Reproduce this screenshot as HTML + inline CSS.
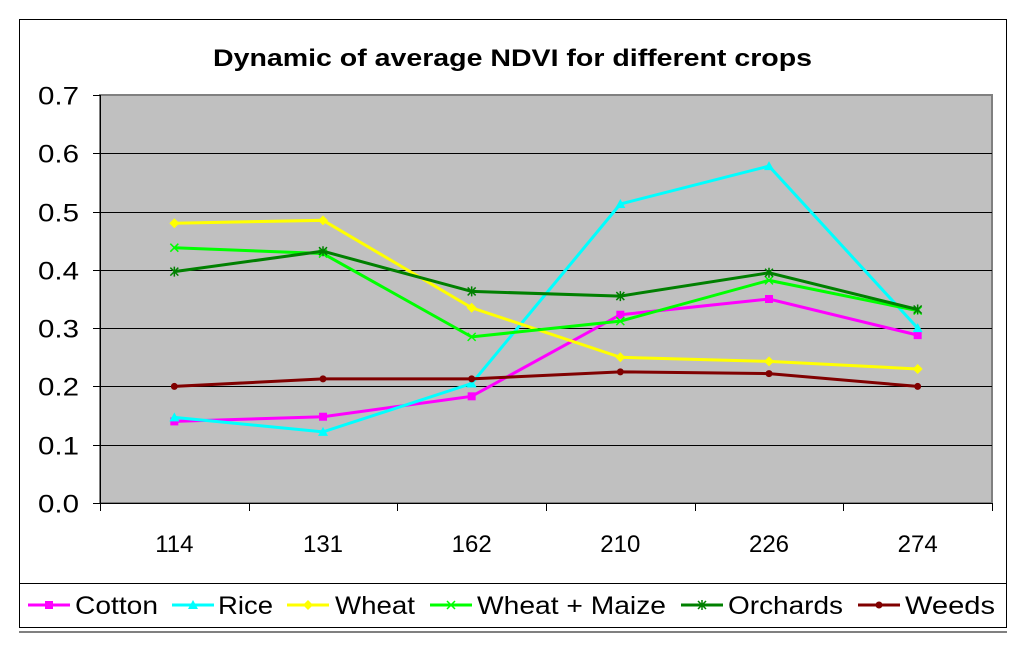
<!DOCTYPE html>
<html><head><meta charset="utf-8"><style>
body{margin:0;background:#fff;width:1024px;height:651px;overflow:hidden;font-family:"Liberation Sans",Arial,sans-serif}
</style></head><body>
<svg width="1024" height="651">
<rect x="19.5" y="19.5" width="987" height="608" fill="#fff" stroke="#000"/>
<line x1="19" y1="632" x2="1007" y2="632" stroke="#000"/>
<text x="213" y="66" textLength="599" lengthAdjust="spacingAndGlyphs" font-size="24" font-weight="bold">Dynamic of average NDVI for different crops</text>
<rect x="100" y="95" width="892" height="408" fill="#c0c0c0" stroke="#808080" stroke-width="2"/>
<g id="grid"></g><g id="axes"></g><g id="series"></g>
<line x1="19" y1="583.5" x2="1007" y2="583.5" stroke="#000"/>
<g id="legend"></g>
</svg>
<script>
const categories=["114","131","162","210","226","274"];
const yTicks=[0,0.1,0.2,0.3,0.4,0.5,0.6,0.7];
const seriesNames=["Cotton","Rice","Wheat","Wheat + Maize","Orchards","Weeds"];
const seriesColors=["#ff00ff","#00ffff","#ffff00","#00ff00","#008000","#800000"];
const cotton=[0.14,0.148,0.183,0.323,0.35,0.288];
const rice=[0.147,0.122,0.205,0.513,0.578,0.30];
const wheat=[0.48,0.485,0.335,0.25,0.243,0.23];
const wheatMaize=[0.438,0.428,0.285,0.312,0.382,0.33];
const orchards=[0.397,0.432,0.363,0.355,0.395,0.332];
const weeds=[0.2,0.213,0.213,0.225,0.222,0.2];
const seriesData=[cotton,rice,wheat,wheatMaize,orchards,weeds];
const NS="http://www.w3.org/2000/svg";
const L=100,R=992,T=95,B=503,YMAX=0.7;
const bw=(R-L)/categories.length;
const x=i=>L+bw*(i+0.5);
const y=v=>B-(v/YMAX)*(B-T);
function mk(tag,attrs,parent){const e=document.createElementNS(NS,tag);for(const k in attrs)e.setAttribute(k,attrs[k]);parent.appendChild(e);return e;}
const grid=document.getElementById('grid'),axes=document.getElementById('axes'),ser=document.getElementById('series'),leg=document.getElementById('legend');
yTicks.forEach(t=>{
 const yy=Math.round(y(t))+0.5;
 if(t>0&&t<YMAX){const g=mk('line',{x1:L,x2:R,y1:yy,y2:yy,stroke:'#000'},grid);
 
 }
 const tk=mk('line',{x1:L-7,x2:L,y1:yy,y2:yy,stroke:'#000'},axes);
 
 
 const lb=mk('text',{x:L-21,y:yy+9,'text-anchor':'end','font-size':25,textLength:41,lengthAdjust:'spacingAndGlyphs'},axes);
 lb.textContent=t.toFixed(1);
 
 
});
const ya=mk('line',{x1:L+0.5,x2:L+0.5,y1:T,y2:B,stroke:'#000'},axes);


const xa=mk('line',{x1:L,x2:R,y1:B+0.5,y2:B+0.5,stroke:'#000'},axes);


for(let i=0;i<=categories.length;i++){
 const xx=Math.round(L+bw*i)+0.5;
 const tk=mk('line',{x1:xx,x2:xx,y1:B,y2:B+8,stroke:'#000'},axes);
 
 
}
categories.forEach((c,i)=>{
 const lb=mk('text',{x:x(i),y:552,'text-anchor':'middle','font-size':24},axes);
 lb.textContent=c;
 
 
});
function marker(s,cx,cy,col,parent){
 let m;
 if(s===0)m=mk('rect',{x:cx-4,y:cy-4,width:8,height:8,fill:col},parent);
 else if(s===1)m=mk('polygon',{points:`${cx},${cy-5} ${cx+5},${cy+4} ${cx-5},${cy+4}`,fill:col},parent);
 else if(s===2)m=mk('polygon',{points:`${cx},${cy-5} ${cx+5},${cy} ${cx},${cy+5} ${cx-5},${cy}`,fill:col},parent);
 else if(s===3||s===4)m=mk('path',{d:`M${cx-4} ${cy-4}L${cx+4} ${cy+4}M${cx-4} ${cy+4}L${cx+4} ${cy-4}${s===4?`M${cx} ${cy-5}V${cy+5}`:''}`,stroke:col,'stroke-width':1.5},parent);
 else m=mk('circle',{cx:cx,cy:cy,r:3.5,fill:col},parent);
 return m;
}
seriesData.forEach((d,s)=>{
 const col=seriesColors[s];
 const pl=mk('polyline',{points:d.map((v,i)=>x(i)+','+y(v)).join(' '),fill:'none',stroke:col,'stroke-width':3},ser);
 
 
 d.forEach((v,i)=>{const m=marker(s,x(i),y(v),col,ser);
 
 });
});
const legX=[28,172,287,430,681,858],legTX=[75,218,335,477,728,905],legTW=[83,55,80,189,115,90];
seriesNames.forEach((n,s)=>{
 const g=mk('g',{},leg);
 
 
 mk('line',{x1:legX[s],x2:legX[s]+42,y1:605,y2:605,stroke:seriesColors[s],'stroke-width':3},g);
 marker(s,legX[s]+21,605,seriesColors[s],g);
 const t=mk('text',{x:legTX[s],y:614,'font-size':25,textLength:legTW[s],lengthAdjust:'spacingAndGlyphs'},g);
 t.textContent=n;
});
</script>
</body></html>
